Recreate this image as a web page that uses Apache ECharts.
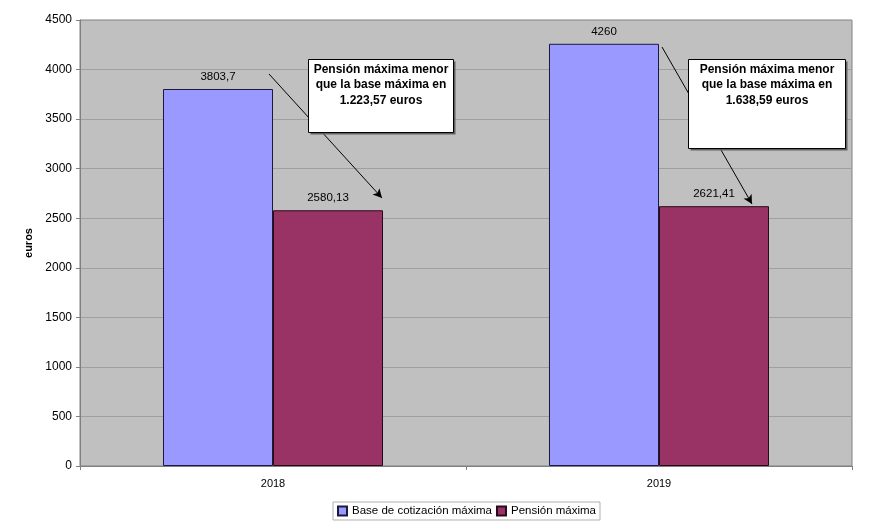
<!DOCTYPE html>
<html>
<head>
<meta charset="utf-8">
<script src="https://cdn.jsdelivr.net/npm/echarts@6/dist/echarts.min.js"></script>
<style>
html, body { margin: 0; padding: 0; background: #fff; }
#chart { width: 885px; height: 522px; }
</style>
</head>
<body>
<div id="chart"></div>
<script>
var years = ['2018', '2019'];
var baseMaxima = [3803.7, 4260];
var pensionMaxima = [2580.13, 2621.41];
var seriesNames = ['Base de cotización máxima', 'Pensión máxima'];
var notes = [
    'Pensión máxima menor\nque la base máxima en\n1.223,57 euros',
    'Pensión máxima menor\nque la base máxima en\n1.638,59 euros'
];

var myChart = echarts.init(document.getElementById('chart'));

function comma(p) {
    return String(p.value).replace('.', ',');
}

var font = 'Liberation Sans, Arial, sans-serif';

// caja de texto con sombra
function noteBox(left, top, w, h, text) {
    return {
        type: 'group', left: left, top: top, zlevel: 1,
        children: [
            { type: 'rect', z: 100, shape: { x: 2, y: 2, width: w, height: h }, style: { fill: '#606060' } },
            { type: 'rect', z: 101, shape: { x: 0, y: 0, width: w, height: h }, style: { fill: '#fff', stroke: '#000', lineWidth: 1 } },
            { type: 'text', z: 102, x: w / 2, y: 2, style: { text: text, align: 'center', font: 'bold 12px ' + font, lineHeight: 15.5, fill: '#000' } }
        ]
    };
}

var option = {
    animation: false,
    textStyle: { fontFamily: font },
    grid: {
        left: 80, top: 20, right: 33, bottom: 56,
        show: true, backgroundColor: '#c0c0c0', borderColor: '#808080', borderWidth: 1
    },
    legend: {
        bottom: 2, left: 333,
        data: seriesNames,
        itemWidth: 9, itemHeight: 9, itemGap: 4,
        padding: [3, 4],
        borderColor: '#b0b0b0', borderWidth: 1,
        textStyle: { fontSize: 11.5, color: '#000', fontFamily: font },
        icon: 'rect'
    },
    xAxis: {
        type: 'category',
        data: years,
        axisLine: { lineStyle: { color: '#808080' } },
        axisTick: { show: true, length: 4, lineStyle: { color: '#808080' } },
        axisLabel: { color: '#000', fontSize: 11, margin: 12 }
    },
    yAxis: {
        type: 'value',
        min: 0, max: 4500, interval: 500,
        name: 'euros',
        nameLocation: 'middle',
        nameGap: 42,
        nameRotate: 90,
        nameTextStyle: { fontWeight: 'bold', fontSize: 11, color: '#000' },
        axisLine: { show: true, lineStyle: { color: '#808080' } },
        axisTick: { show: true, length: 4, lineStyle: { color: '#808080' } },
        axisLabel: { color: '#000', fontSize: 12, margin: 8, formatter: function (v) { return String(v); } },
        splitLine: { lineStyle: { color: '#a0a0a0' } }
    },
    series: [
        {
            name: seriesNames[0],
            type: 'bar',
            data: baseMaxima,
            barGap: '0%',
            barCategoryGap: '43%',
            itemStyle: { color: '#9999ff', borderColor: '#1a1a40', borderWidth: 1 },
            label: { show: true, position: 'top', distance: 6, color: '#000', fontSize: 11.5, formatter: comma },
            markLine: {
                silent: true,
                symbol: ['none', 'arrow'],
                symbolSize: [7, 9],
                label: { show: false },
                lineStyle: { color: '#000', width: 1, type: 'solid' },
                data: [
                    [{ x: 269, y: 74 }, { x: 382, y: 198 }],
                    [{ x: 662, y: 47 }, { x: 752, y: 204 }]
                ]
            }
        },
        {
            name: seriesNames[1],
            type: 'bar',
            data: pensionMaxima,
            itemStyle: { color: '#993366', borderColor: '#2a0a18', borderWidth: 1 },
            label: { show: true, position: 'top', distance: 6, color: '#000', fontSize: 11.5, formatter: comma }
        }
    ],
    graphic: [
        noteBox(308, 59, 145, 73, notes[0]),
        noteBox(688, 59, 157, 89, notes[1])
    ]
};

myChart.setOption(option);
</script>
</body>
</html>
